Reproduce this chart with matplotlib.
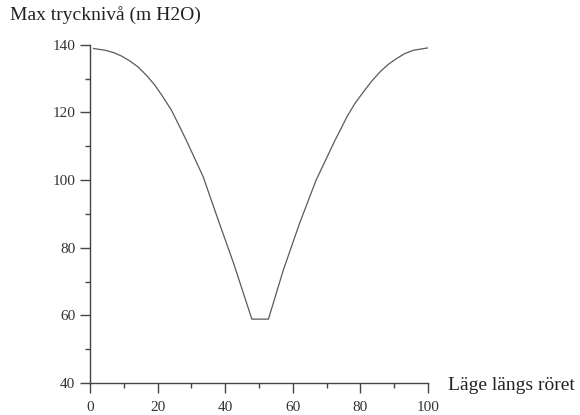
import matplotlib
matplotlib.use("Agg")
import matplotlib.pyplot as plt
from matplotlib.ticker import MultipleLocator

# position along the pipe and max pressure head (m H2O)
position = [1.1, 4.5, 7.0, 9.3, 11.7, 14.2, 16.7, 19.2, 21.6, 24.1, 26.1, 28.5,
            33.5, 37.6, 42.5, 47.9, 52.8, 57.2, 62.0, 66.9, 72.5, 74.0, 76.0,
            78.4, 80.9, 83.3, 85.8, 88.2, 90.8, 93.1, 95.7, 100]
max_head = [138.9, 138.4, 137.7, 136.7, 135.3, 133.5, 131.0, 128.1, 124.6, 120.7, 116.7, 111.8,
            101.0, 89.2, 75.4, 58.9, 58.9, 73.4, 87.2, 100.0, 111.8, 114.7, 118.7,
            122.7, 126.1, 129.2, 132.0, 134.2, 136.0, 137.4, 138.4, 139.1]

plt.rcParams['font.family'] = ['Liberation Serif', 'DejaVu Serif']

fig = plt.figure(figsize=(5.8, 4.15), dpi=100)
ax = fig.add_axes([0.155, 0.077, 0.583, 0.815])

ax.plot(position, max_head, color='#5a5a5a', linewidth=0.9)

ax.set_xlim(0, 100)
ax.set_ylim(40, 140)
ax.xaxis.set_major_locator(MultipleLocator(20))
ax.xaxis.set_minor_locator(MultipleLocator(10))
ax.yaxis.set_major_locator(MultipleLocator(20))
ax.yaxis.set_minor_locator(MultipleLocator(10))

for side in ['top', 'right']:
    ax.spines[side].set_visible(False)
for side in ['left', 'bottom']:
    ax.spines[side].set_color('#444444')
    ax.spines[side].set_linewidth(1.0)

ax.tick_params(which='major', direction='out', length=7, width=1.0,
               color='#444444', labelsize=11, labelcolor='#333333')
ax.tick_params(which='minor', direction='out', length=3.5, width=1.0, color='#444444')
ax.tick_params(axis='y', which='major', pad=3.5)
ax.tick_params(axis='x', which='major', pad=6)

fig.text(0.017, 0.963, 'Max trycknivå (m H2O)', fontsize=14, color='#222222',
         ha='left', va='center')
fig.text(0.772, 0.072, 'Läge längs röret', fontsize=14, color='#222222',
         ha='left', va='center')

fig.savefig('out.png', dpi=100)
